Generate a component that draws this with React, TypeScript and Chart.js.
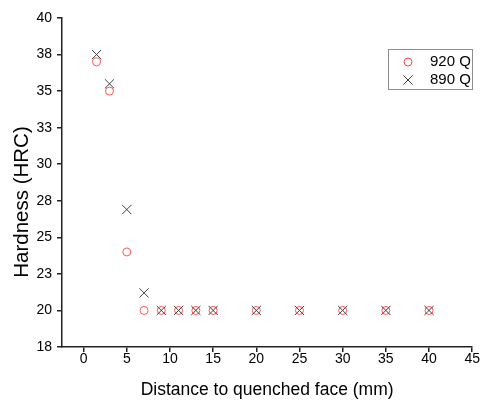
import { useEffect, useRef } from 'react';
import { Chart, registerables } from 'chart.js';

Chart.register(...registerables);

const distances = [1.5, 3, 5, 7, 9, 11, 13, 15, 20, 25, 30, 35, 40];
const hardness920Q = [37.0, 35.0, 24.0, 20, 20, 20, 20, 20, 20, 20, 20, 20, 20];
const hardness890Q = [37.5, 35.5, 26.9, 21.2, 20, 20, 20, 20, 20, 20, 20, 20, 20];
const seriesLabels = ['920 Q', '890 Q'];
const xTickValues = [0, 5, 10, 15, 20, 25, 30, 35, 40, 45];
const yTickValues = [17.5, 20, 22.5, 25, 27.5, 30, 32.5, 35, 37.5, 40];
const yTickLabels = ['18', '20', '23', '25', '28', '30', '33', '35', '38', '40'];
const xTitle = 'Distance to quenched face (mm)';
const yTitle = 'Hardness (HRC)';

const FONT = 'Arial, "Liberation Sans", sans-serif';

const boxLegend = {
  id: 'boxLegend',
  afterDraw(chart: any) {
    const ctx = chart.ctx;
    ctx.save();
    // y axis title (shifted below the plot centre as in the reference)
    ctx.translate(22, 202);
    ctx.rotate(-Math.PI / 2);
    ctx.fillStyle = '#000';
    ctx.font = `20.5px ${FONT}`;
    ctx.textAlign = 'center';
    ctx.textBaseline = 'middle';
    ctx.fillText(yTitle, 0, 0);
    ctx.restore();

    ctx.save();
    ctx.strokeStyle = '#8c8c8c';
    ctx.lineWidth = 1;
    ctx.strokeRect(388.5, 49.5, 84, 40);
    chart.data.datasets.forEach((ds: any, i: number) => {
      const y = 62 + i * 18;
      const x = 408;
      ctx.strokeStyle = ds.borderColor;
      ctx.lineWidth = 1;
      ctx.beginPath();
      if (ds.pointStyle === 'circle') {
        ctx.arc(x, y, 4, 0, 2 * Math.PI);
      } else {
        const d = 4.6;
        ctx.moveTo(x - d, y - d);
        ctx.lineTo(x + d, y + d);
        ctx.moveTo(x + d, y - d);
        ctx.lineTo(x - d, y + d);
      }
      ctx.stroke();
      ctx.fillStyle = '#000';
      ctx.font = `15px ${FONT}`;
      ctx.textBaseline = 'middle';
      ctx.textAlign = 'left';
      ctx.fillText(ds.label, 430, y);
    });
    ctx.restore();
  },
};

export default function App() {
  const ref = useRef<HTMLCanvasElement | null>(null);
  useEffect(() => {
    if (!ref.current) return;
    const axisColor = '#222';
    const chart = new Chart(ref.current, {
      type: 'scatter',
      data: {
        datasets: [
          {
            label: seriesLabels[0],
            data: distances.map((x, i) => ({ x, y: hardness920Q[i] })),
            pointStyle: 'circle',
            pointRadius: 4,
            borderColor: '#ff4444',
            backgroundColor: 'rgba(0,0,0,0)',
            borderWidth: 0.9,
            order: 1,
          },
          {
            label: seriesLabels[1],
            data: distances.map((x, i) => ({ x, y: hardness890Q[i] })),
            pointStyle: 'crossRot',
            pointRadius: 6.5,
            borderColor: '#404040',
            backgroundColor: 'rgba(0,0,0,0)',
            borderWidth: 1,
            order: 0,
          },
        ],
      },
      options: {
        responsive: false,
        animation: false,
        devicePixelRatio: 1,
        layout: { padding: { left: 0, right: 7, top: 18, bottom: 0 } },
        plugins: { legend: { display: false }, tooltip: { enabled: false } },
        scales: {
          x: {
            type: 'linear',
            min: -2.5,
            max: 45,
            afterBuildTicks: (s: any) => {
              s.ticks = xTickValues.map((v) => ({ value: v }));
            },
            afterFit: (s: any) => {
              s.height = 53;
            },
            ticks: {
              font: { size: 14, family: FONT, lineHeight: 1 },
              color: '#000',
              padding: 0,
              maxRotation: 0,
              autoSkip: false,
            },
            grid: {
              display: true,
              drawOnChartArea: false,
              drawTicks: true,
              tickLength: 5,
              color: axisColor,
              lineWidth: 1.5,
            },
            border: { display: true, color: axisColor, width: 1.5 },
            title: {
              display: true,
              text: xTitle,
              font: { size: 17.5, family: FONT },
              color: '#000',
              padding: { top: 0, bottom: -1 },
            },
          },
          y: {
            type: 'linear',
            min: 17.5,
            max: 40,
            afterBuildTicks: (s: any) => {
              s.ticks = yTickValues.map((v) => ({ value: v }));
            },
            afterFit: (s: any) => {
              s.width = 62;
            },
            ticks: {
              font: { size: 14, family: FONT },
              color: '#000',
              padding: 5,
              autoSkip: false,
              callback: (_v: any, i: number) => yTickLabels[i],
            },
            grid: {
              display: true,
              drawOnChartArea: false,
              drawTicks: true,
              tickLength: 5,
              color: axisColor,
              lineWidth: 1.5,
            },
            border: { display: true, color: axisColor, width: 1.5 },
            title: { display: false },
          },
        },
      },
      plugins: [boxLegend],
    } as any);
    return () => chart.destroy();
  }, []);
  return (
    <div style={{ position: 'fixed', left: 0, top: 0, width: 480, height: 400, background: '#fff' }}>
      <canvas ref={ref} width={480} height={400} style={{ display: 'block' }} />
    </div>
  );
}
